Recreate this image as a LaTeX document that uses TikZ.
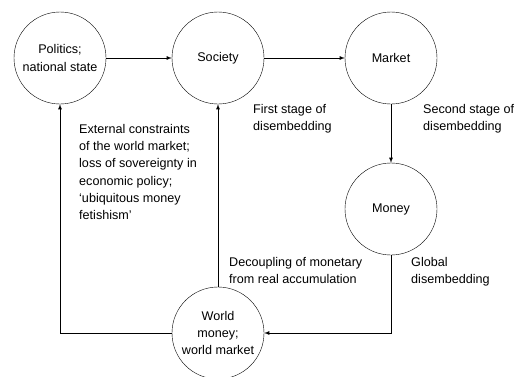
\documentclass[tikz,border=0pt]{standalone}
\usepackage{fontspec}
\setmainfont{Liberation Sans}
\tikzset{
    stage/.style={circle,draw,thin,minimum size=92pt,inner sep=0pt,align=center},
    note/.style={anchor=north west,inner sep=0pt,align=left},
    flow/.style={line width=0.8pt,-latex}
}

\begin{document}
\begin{tikzpicture}[x=1pt,y=-1pt,font=\fontsize{12.6}{17.3}\selectfont]
                \useasboundingbox (0,0) rectangle (522,376);
                \node[stage] (P) at (60,58) {Politics;\\national state};
                \node[stage] (S) at (218,58) {Society};
                \node[stage] (M) at (391,58) {Market};
                \node[stage] (G) at (391,209) {Money};
                \node[stage] (W) at (218,333) {World\\money;\\world market};
                \coordinate (WL) at (P|-W);
                \coordinate (WR) at (G|-W);
                \draw[flow] (P)--(S);
                \draw[flow] (S)--(M);
                \draw[flow] (M)--(G);
                \draw[flow] (G)--(WR)--(W);
                \draw[flow] (W)--(WL)--(P);
                \draw[flow] (W)--(S);
                \node[note] (n1) at (253,104) {First stage of\\disembedding};
                \node[note] (n2) at (423,104) {Second stage of\\disembedding};
                \node[note] (n3) at (79,124) {External constraints\\of the world market;\\loss of sovereignty in\\economic policy;\\`ubiquitous money\\fetishism'};
                \node[note] (n4) at (229,257) {Decoupling of monetary\\from real accumulation};
                \node[note] (n5) at (411,257) {Global\\disembedding};
            \end{tikzpicture}
\end{document}
